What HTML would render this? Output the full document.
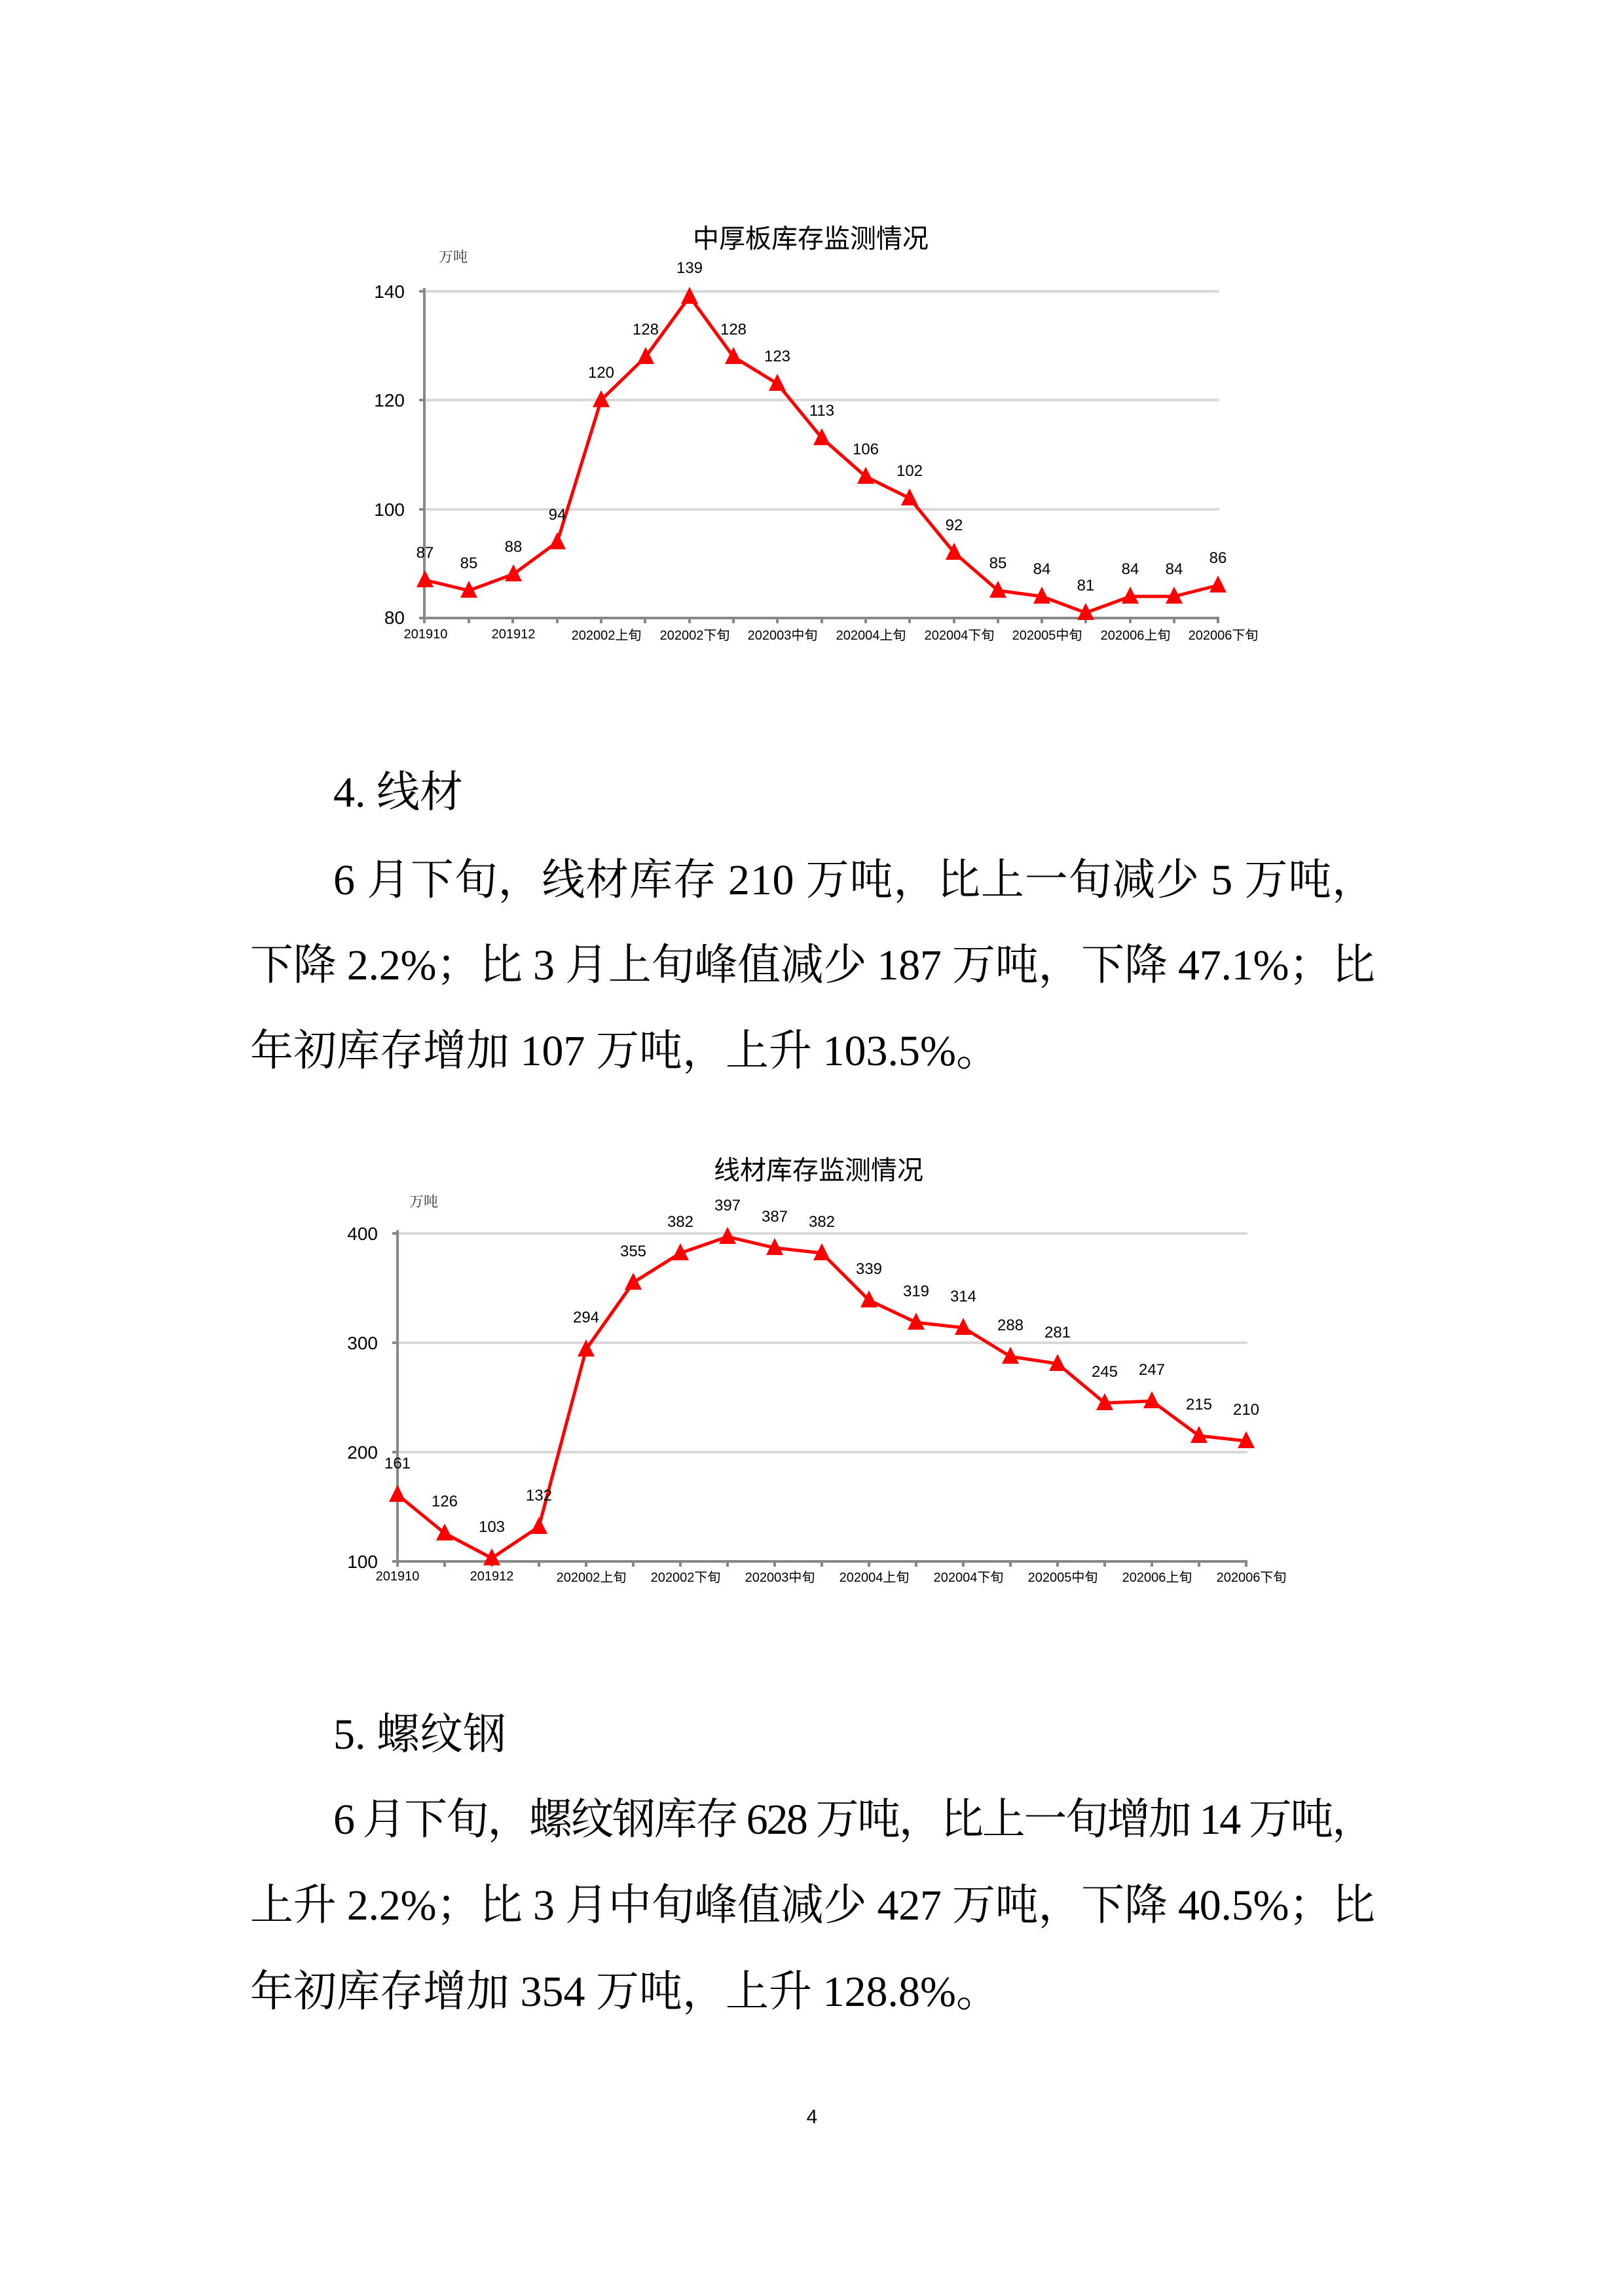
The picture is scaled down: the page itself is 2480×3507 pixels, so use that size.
<!DOCTYPE html>
<html><head><meta charset="utf-8"><style>
html,body{margin:0;padding:0;background:#fff}
svg{display:block}
.t{font-family:"Liberation Serif","Noto Serif CJK SC",serif;font-size:66px;fill:#000}
.a{font-family:"Liberation Sans","Noto Sans CJK SC",sans-serif;font-size:28px;fill:#000}
.d{font-family:"Liberation Sans","Noto Sans CJK SC",sans-serif;font-size:24px;fill:#000;text-anchor:middle}
.x{font-family:"Liberation Sans","Noto Sans CJK SC",sans-serif;font-size:20px;fill:#000}
.ti{font-family:"Liberation Sans","Noto Sans CJK SC",sans-serif;font-size:40px;font-weight:normal;fill:#000;text-anchor:middle}
.u{font-family:"Noto Serif CJK SC",serif;font-size:22px;fill:#333}
</style></head><body>
<svg width="2480" height="3507" viewBox="0 0 2480 3507" xmlns="http://www.w3.org/2000/svg">
<defs><path id="tr" d="M-13 11 L0 -15 L13 11 Z" fill="#f00"/></defs>
<rect width="2480" height="3507" fill="#fff"/>

<!-- Chart 1 -->
<text class="ti" x="1238" y="378">中厚板库存监测情况</text>
<text class="u" x="670" y="400">万吨</text>
<g stroke="#d9d9d9" stroke-width="4">
<line x1="648" y1="445" x2="1862" y2="445"/><line x1="648" y1="611" x2="1862" y2="611"/><line x1="648" y1="778" x2="1862" y2="778"/>
</g>
<g stroke="#888" stroke-width="4" fill="none">
<line x1="648" y1="440" x2="648" y2="944"/><line x1="640" y1="944" x2="1862" y2="944"/>
<line x1="640" y1="445" x2="648" y2="445"/><line x1="640" y1="611" x2="648" y2="611"/><line x1="640" y1="778" x2="648" y2="778"/>
<path d="M648 944v8M716 944v8M783 944v8M851 944v8M918 944v8M985 944v8M1053 944v8M1120 944v8M1187 944v8M1255 944v8M1322 944v8M1389 944v8M1457 944v8M1524 944v8M1591 944v8M1658 944v8M1726 944v8M1793 944v8M1860 944v8"/>
</g>
<g class="a" text-anchor="end"><text x="618" y="455">140</text><text x="618" y="621">120</text><text x="618" y="788">100</text><text x="618" y="953">80</text></g>
<g class="x" text-anchor="middle">
<text x="650" y="975">201910</text><text x="784" y="975">201912</text><text x="926" y="977">202002上旬</text><text x="1061" y="977">202002下旬</text><text x="1195" y="977">202003中旬</text><text x="1330" y="977">202004上旬</text><text x="1465" y="977">202004下旬</text><text x="1599" y="977">202005中旬</text><text x="1734" y="977">202006上旬</text><text x="1868" y="977">202006下旬</text>
</g>
<polyline fill="none" stroke="#f00" stroke-width="5" stroke-linejoin="round" points="649,886 716,902 784,877 851,828 918,611 986,545 1053,453 1120,545 1187,586 1255,669 1322,728 1389,761 1457,844 1524,902 1591,911 1658,936 1726,911 1793,911 1860,894"/>
<g>
<use href="#tr" x="649" y="886"/><use href="#tr" x="716" y="902"/><use href="#tr" x="784" y="877"/><use href="#tr" x="851" y="828"/><use href="#tr" x="918" y="611"/><use href="#tr" x="986" y="545"/><use href="#tr" x="1053" y="453"/><use href="#tr" x="1120" y="545"/><use href="#tr" x="1187" y="586"/><use href="#tr" x="1255" y="669"/><use href="#tr" x="1322" y="728"/><use href="#tr" x="1389" y="761"/><use href="#tr" x="1457" y="844"/><use href="#tr" x="1524" y="902"/><use href="#tr" x="1591" y="911"/><use href="#tr" x="1658" y="936"/><use href="#tr" x="1726" y="911"/><use href="#tr" x="1793" y="911"/><use href="#tr" x="1860" y="894"/>
</g>
<g class="d">
<text x="649" y="852">87</text><text x="716" y="868">85</text><text x="784" y="843">88</text><text x="851" y="794">94</text><text x="918" y="577">120</text><text x="986" y="511">128</text><text x="1053" y="417">139</text><text x="1120" y="511">128</text><text x="1187" y="552">123</text><text x="1255" y="635">113</text><text x="1322" y="694">106</text><text x="1389" y="727">102</text><text x="1457" y="810">92</text><text x="1524" y="868">85</text><text x="1591" y="877">84</text><text x="1658" y="902">81</text><text x="1726" y="877">84</text><text x="1793" y="877">84</text><text x="1860" y="860">86</text>
</g>

<!-- Text block 1 -->
<g transform="translate(0,-6)">
<text class="t" x="509" y="1238">4. 线材</text>
<text class="t" x="509" y="1372" textLength="1591" lengthAdjust="spacing">6 月下旬，线材库存 210 万吨，比上一旬减少 5 万吨，</text>
<text class="t" x="382" y="1502" textLength="1718" lengthAdjust="spacing">下降 2.2%；比 3 月上旬峰值减少 187 万吨，下降 47.1%；比</text>
<text class="t" x="382" y="1633">年初库存增加 107 万吨，上升 103.5%。</text>
</g>

<!-- Chart 2 -->
<g transform="translate(0,-5)">
<text class="ti" x="1250" y="1806">线材库存监测情况</text>
<text class="u" x="625" y="1848">万吨</text>
<g stroke="#d9d9d9" stroke-width="4">
<line x1="607" y1="1889" x2="1905" y2="1889"/><line x1="607" y1="2056" x2="1905" y2="2056"/><line x1="607" y1="2223" x2="1905" y2="2223"/>
</g>
<g stroke="#888" stroke-width="4" fill="none">
<line x1="607" y1="1884" x2="607" y2="2390"/><line x1="599" y1="2390" x2="1905" y2="2390"/>
<line x1="599" y1="1889" x2="607" y2="1889"/><line x1="599" y1="2056" x2="607" y2="2056"/><line x1="599" y1="2223" x2="607" y2="2223"/>
<path d="M607 2390v8M679 2390v8M751 2390v8M823 2390v8M895 2390v8M967 2390v8M1039 2390v8M1111 2390v8M1183 2390v8M1255 2390v8M1327 2390v8M1399 2390v8M1471 2390v8M1543 2390v8M1615 2390v8M1687 2390v8M1759 2390v8M1831 2390v8M1903 2390v8"/>
</g>
<g class="a" text-anchor="end"><text x="577" y="1899">400</text><text x="577" y="2066">300</text><text x="577" y="2233">200</text><text x="577" y="2400">100</text></g>
<g class="x" text-anchor="middle">
<text x="607" y="2419">201910</text><text x="751" y="2419">201912</text><text x="903" y="2421">202002上旬</text><text x="1047" y="2421">202002下旬</text><text x="1191" y="2421">202003中旬</text><text x="1335" y="2421">202004上旬</text><text x="1479" y="2421">202004下旬</text><text x="1623" y="2421">202005中旬</text><text x="1767" y="2421">202006上旬</text><text x="1911" y="2421">202006下旬</text>
</g>
<polyline fill="none" stroke="#f00" stroke-width="5" stroke-linejoin="round" points="607,2288 679,2347 751,2385 823,2337 895,2066 967,1964 1039,1919 1111,1894 1183,1911 1255,1919 1327,1991 1399,2025 1471,2033 1543,2077 1615,2088 1687,2148 1759,2145 1831,2198 1903,2206"/>
<g>
<use href="#tr" x="607" y="2288"/><use href="#tr" x="679" y="2347"/><use href="#tr" x="751" y="2385"/><use href="#tr" x="823" y="2337"/><use href="#tr" x="895" y="2066"/><use href="#tr" x="967" y="1964"/><use href="#tr" x="1039" y="1919"/><use href="#tr" x="1111" y="1894"/><use href="#tr" x="1183" y="1911"/><use href="#tr" x="1255" y="1919"/><use href="#tr" x="1327" y="1991"/><use href="#tr" x="1399" y="2025"/><use href="#tr" x="1471" y="2033"/><use href="#tr" x="1543" y="2077"/><use href="#tr" x="1615" y="2088"/><use href="#tr" x="1687" y="2148"/><use href="#tr" x="1759" y="2145"/><use href="#tr" x="1831" y="2198"/><use href="#tr" x="1903" y="2206"/>
</g>
<g class="d">
<text x="607" y="2248">161</text><text x="679" y="2306">126</text><text x="751" y="2345">103</text><text x="823" y="2297">132</text><text x="895" y="2025">294</text><text x="967" y="1924">355</text><text x="1039" y="1879">382</text><text x="1111" y="1854">397</text><text x="1183" y="1871">387</text><text x="1255" y="1879">382</text><text x="1327" y="1951">339</text><text x="1399" y="1985">319</text><text x="1471" y="1993">314</text><text x="1543" y="2037">288</text><text x="1615" y="2048">281</text><text x="1687" y="2108">245</text><text x="1759" y="2105">247</text><text x="1831" y="2158">215</text><text x="1903" y="2166">210</text>
</g>
</g>

<!-- Text block 2 -->
<g transform="translate(0,-6)">
<text class="t" x="509" y="2677">5. 螺纹钢</text>
<text class="t" x="509" y="2807" textLength="1591" lengthAdjust="spacing">6 月下旬，螺纹钢库存 628 万吨，比上一旬增加 14 万吨，</text>
<text class="t" x="382" y="2938" textLength="1718" lengthAdjust="spacing">上升 2.2%；比 3 月中旬峰值减少 427 万吨，下降 40.5%；比</text>
<text class="t" x="382" y="3070">年初库存增加 354 万吨，上升 128.8%。</text>
</g>

<text x="1240" y="3243" text-anchor="middle" style="font-family:'Liberation Sans',sans-serif;font-size:30px">4</text>
</svg>
</body></html>
